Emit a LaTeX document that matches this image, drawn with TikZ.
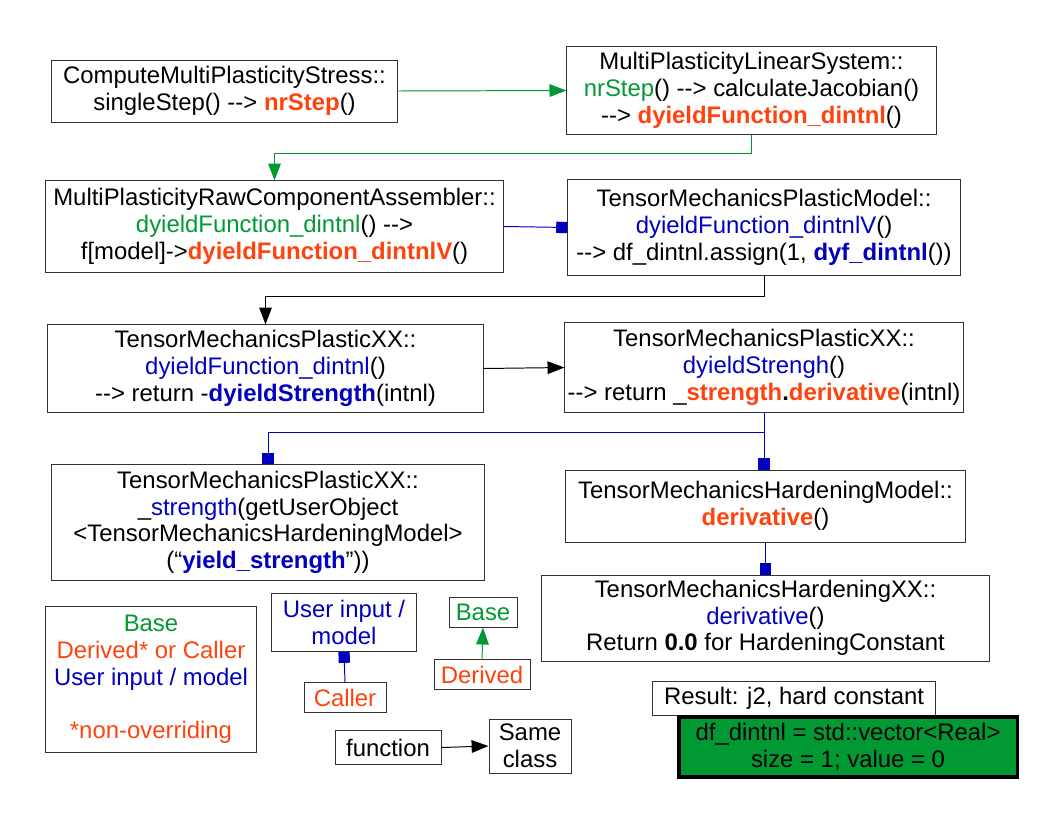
\documentclass[tikz,border=0pt]{standalone}
\usepackage{fontspec}
\setmainfont{Liberation Sans}[Ligatures=TeXOff]
\usetikzlibrary{arrows.meta}
\definecolor{ggreen}{RGB}{0,153,51}
\definecolor{ored}{RGB}{255,66,14}
\definecolor{ublue}{RGB}{0,0,190}
\newcommand{\gr}[1]{\textcolor{ggreen}{#1}}
\newcommand{\rd}[1]{\textcolor{ored}{\textbf{#1}}}
\newcommand{\bl}[1]{\textcolor{ublue}{#1}}
\newcommand{\bb}[1]{\textcolor{ublue}{\textbf{#1}}}
\begin{document}
\begin{tikzpicture}[x=0.025cm,y=-0.025cm,font=\fontsize{17}{19}\selectfont,
    box/.style={draw=black!80,line width=0.7pt,align=center,inner sep=2pt},
    inherit/.style={ggreen,line width=0.7pt,-{Triangle[length=12pt,width=9pt]}},
    call/.style={black,line width=0.7pt,-{Triangle[length=12pt,width=9pt]}},
    uses/.style={ublue,line width=0.7pt,-{Square[length=8pt,width=8pt]}}]
    \useasboundingbox (0,0) rectangle (1056,816);
    % call chain
    \node[box,minimum width=8.63cm,minimum height=1.55cm] (cms) at (224.5,91)
        {ComputeMultiPlasticityStress::\\ singleStep() --> \rd{nrStep}()};
    \node[box,minimum width=9.23cm,minimum height=2.18cm] (mpls) at (751.5,90.5)
        {MultiPlasticityLinearSystem::\\ \gr{nrStep}() --> calculateJacobian()\\ --> \rd{dyieldFunction\_dintnl}()};
    \node[box,minimum width=11.43cm,minimum height=2.28cm] (raw) at (274.5,226.5)
        {MultiPlasticityRawComponentAssembler::\\ \gr{dyieldFunction\_dintnl}() -->\\ f[model]->\rd{dyieldFunction\_dintnlV}()};
    \node[box,minimum width=9.8cm,minimum height=2.38cm] (tmpm) at (764,227.5)
        {TensorMechanicsPlasticModel::\\ \bl{dyieldFunction\_dintnlV}()\\ --> df\_dintnl.assign(1, \bb{dyf\_dintnl}())};
    \node[box,minimum width=10.88cm,minimum height=2.18cm] (pxxl) at (265.5,368.5)
        {TensorMechanicsPlasticXX::\\ \bl{dyieldFunction\_dintnl}()\\ --> return -\bb{dyieldStrength}(intnl)};
    \node[box,minimum width=9.95cm,minimum height=2.23cm] (pxxr) at (764,367.5)
        {TensorMechanicsPlasticXX::\\ \bl{dyieldStrengh}()\\ --> return \_\rd{strength}\textbf{.}\rd{derivative}(intnl)};
    \node[box,minimum width=10.8cm,minimum height=2.88cm] (str) at (268,522.5)
        {TensorMechanicsPlasticXX::\\ \_\bl{strength}(getUserObject\\ <TensorMechanicsHardeningModel>\\ (“\bb{yield\_strength}”))};
    \node[box,minimum width=9.98cm,minimum height=1.8cm] (hardm) at (765.5,506)
        {TensorMechanicsHardeningModel::\\ \rd{derivative}()};
    \node[box,minimum width=11.18cm,minimum height=2.15cm] (hardxx) at (765.5,618)
        {TensorMechanicsHardeningXX::\\ \bl{derivative}()\\ Return \textbf{0.0} for HardeningConstant};
    % legend
    \node[box,minimum width=5.25cm,minimum height=3.63cm] (key) at (151,679.5)
        {\gr{Base}\\ \textcolor{ored}{Derived* or Caller}\\ \bl{User input / model}\\[19pt] \textcolor{ored}{*non-overriding}};
    \node[box,minimum width=3.6cm,minimum height=1.43cm] (user) at (344,622.5) {\bl{User input /}\\ \bl{model}};
    \node[box,minimum width=2.05cm,minimum height=0.73cm] (caller) at (345,697.5) {\textcolor{ored}{Caller}};
    \node[box,minimum width=1.7cm,minimum height=0.73cm] (base) at (483,612.5) {\gr{Base}};
    \node[box,minimum width=2.4cm,minimum height=0.73cm] (derived) at (482,674.5) {\textcolor{ored}{Derived}};
    \node[box,minimum width=2.65cm,minimum height=0.83cm] (func) at (388,747.5) {function};
    \node[box,minimum width=2.05cm,minimum height=1.35cm] (same) at (530,746) {Same\\ class};
    % result
    \node[box,minimum width=7.05cm,minimum height=0.85cm] (res) at (794,698) {Result: j2, hard constant};
    \node[box,draw=black,line width=2.2pt,fill=ggreen,minimum width=8.45cm,minimum height=1.5cm] (dfbox) at (848,747)
        {df\_dintnl = std::vector<Real>\\ size = 1; value = 0};
    % connectors
    \draw[inherit] (cms.east) -- (mpls.west);
    \draw[inherit] (mpls.south) -- ++(0,19) -| (raw.north);
    \draw[uses] (raw.east) -- (tmpm.west);
    \draw[call] (tmpm.south) -- ++(0,21) -| (pxxl.north);
    \draw[call] (pxxl.east) -- (pxxr.west);
    \draw[uses] (pxxr.south) -- ++(0,20) -| (str.north);
    \draw[uses] (pxxr.south) -- (pxxr.south |- hardm.north);
    \draw[uses] (hardm.south) -- (hardxx.north);
    \draw[uses] (caller.north) -- (user.south);
    \draw[inherit] (derived.north) -- (base.south);
    \draw[call] (func.east) -- (same.west);
\end{tikzpicture}
\end{document}
